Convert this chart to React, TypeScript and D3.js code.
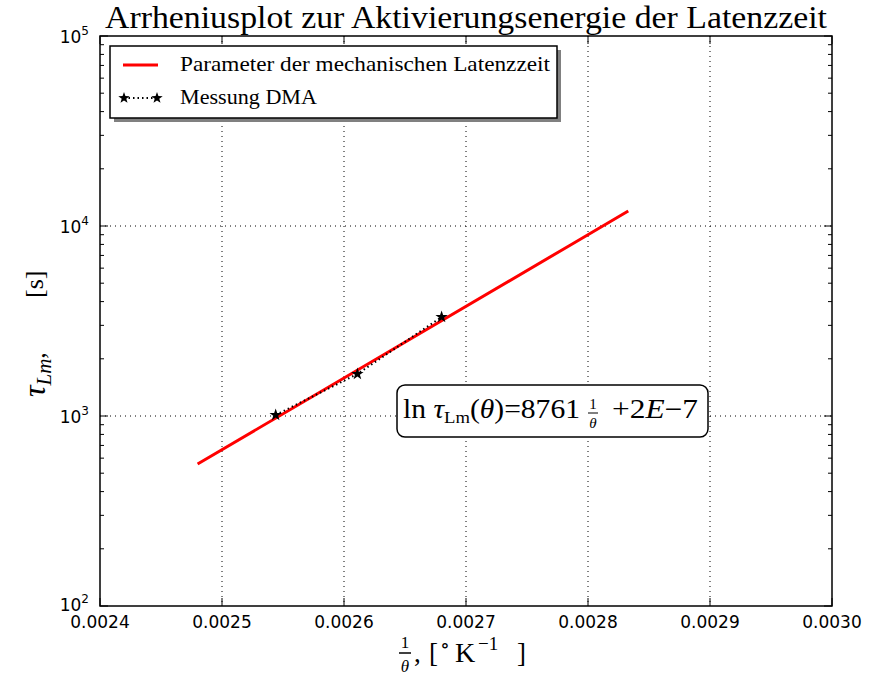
import React from "react";
import * as d3 from "d3";

const xTicks = [0.0024, 0.0025, 0.0026, 0.0027, 0.0028, 0.0029, 0.003];
const xTickLabels = ["0.0024", "0.0025", "0.0026", "0.0027", "0.0028", "0.0029", "0.0030"];
const yTicks = [100, 1000, 10000, 100000];
const yTickExp = ["2", "3", "4", "5"];

const fitX = [0.00248, 0.002785, 0.002833];
const fitY = [559, 7900, 12000];

const measX = [0.002544, 0.002611, 0.00268];
const measY = [1012, 1664, 3320];

const W = 871, H = 677;
const L = 100, R = 832, T = 36, B = 606;

function starPath(cx: number, cy: number, r: number) {
  const pts: string[] = [];
  for (let i = 0; i < 10; i++) {
    const rr = i % 2 === 0 ? r : r * 0.4;
    const a = -Math.PI / 2 + (i * Math.PI) / 5;
    pts.push(`${cx + rr * Math.cos(a)},${cy + rr * Math.sin(a)}`);
  }
  return "M" + pts.join("L") + "Z";
}

export default function App() {
  const x = d3.scaleLinear().domain([0.0024, 0.003]).range([L, R]);
  const y = d3.scaleLog().domain([100, 100000]).range([B, T]);
  const line = d3.line<[number, number]>().x((d) => x(d[0])).y((d) => y(d[1]));
  const fitData: [number, number][] = fitX.map((v, i) => [v, fitY[i]]);
  const measData: [number, number][] = measX.map((v, i) => [v, measY[i]]);

  const minor: number[] = [];
  for (let e = 2; e < 5; e++) for (let m = 2; m <= 9; m++) minor.push(m * Math.pow(10, e));

  const serif = "'Liberation Serif', 'DejaVu Serif', serif";
  const sans = "'DejaVu Sans', sans-serif";

  return (
    <svg width={W} height={H} style={{ position: "absolute", left: 0, top: 0, background: "#fff" }}>
      <rect x={0} y={0} width={W} height={H} fill="#fff" />
      {/* grid */}
      {xTicks.slice(1, -1).map((t) => (
        <line key={"gx" + t} x1={x(t)} x2={x(t)} y1={T} y2={B} stroke="#000" strokeWidth={1} strokeDasharray="1,4" />
      ))}
      {yTicks.slice(1, -1).map((t) => (
        <line key={"gy" + t} x1={L} x2={R} y1={y(t)} y2={y(t)} stroke="#000" strokeWidth={1} strokeDasharray="1,4" />
      ))}
      {/* ticks */}
      {xTicks.map((t, i) => (
        <g key={"tx" + t}>
          <line x1={x(t)} x2={x(t)} y1={B} y2={B - 8} stroke="#000" />
          <line x1={x(t)} x2={x(t)} y1={T} y2={T + 8} stroke="#000" />
          <text x={x(t)} y={B + 22} fontFamily={sans} fontSize={17} textAnchor="middle" fill="#000">{xTickLabels[i]}</text>
        </g>
      ))}
      {yTicks.map((t, i) => (
        <g key={"ty" + t}>
          <line x1={L} x2={L + 8} y1={y(t)} y2={y(t)} stroke="#000" />
          <line x1={R} x2={R - 8} y1={y(t)} y2={y(t)} stroke="#000" />
          <text x={89} y={y(t) + (i === 0 ? 5 : 7)} fontFamily={sans} fontSize={17} textAnchor="end" fill="#000">
            10<tspan dy={-8} fontSize={12}>{yTickExp[i]}</tspan>
          </text>
        </g>
      ))}
      {minor.map((t) => (
        <g key={"my" + t}>
          <line x1={L} x2={L + 4} y1={y(t)} y2={y(t)} stroke="#000" />
          <line x1={R} x2={R - 4} y1={y(t)} y2={y(t)} stroke="#000" />
        </g>
      ))}
      {/* data */}
      <path d={line(fitData) || ""} fill="none" stroke="#ff0000" strokeWidth={3} />
      <path d={line(measData) || ""} fill="none" stroke="#000" strokeWidth={2} strokeDasharray="1.5,3" />
      {measData.map((d, i) => (
        <path key={"s" + i} d={starPath(x(d[0]), y(d[1]), 6.5)} fill="#000" />
      ))}
      {/* frame */}
      <rect x={L} y={T} width={R - L} height={B - T} fill="none" stroke="#000" strokeWidth={1.5} />
      {/* title */}
      <text x={(L + R) / 2} y={28} fontFamily={serif} fontSize={31} textAnchor="middle" textLength={722} lengthAdjust="spacingAndGlyphs" fill="#000">
        Arrheniusplot zur Aktivierungsenergie der Latenzzeit
      </text>
      {/* legend */}
      <rect x={114} y={50} width={447} height={72} fill="#808080" />
      <rect x={110} y={46} width={447} height={72} fill="#fff" stroke="#000" strokeWidth={1.5} />
      <line x1={123} x2={158} y1={65} y2={65} stroke="#ff0000" strokeWidth={3} />
      <text x={180} y={71} fontFamily={serif} fontSize={21} textLength={370} lengthAdjust="spacingAndGlyphs" fill="#000">Parameter der mechanischen Latenzzeit</text>
      <line x1={124} x2={157} y1={98} y2={98} stroke="#000" strokeWidth={2} strokeDasharray="1.5,3" />
      <path d={starPath(124, 98, 6)} fill="#000" />
      <path d={starPath(157, 98, 6)} fill="#000" />
      <text x={180} y={104} fontFamily={serif} fontSize={21} textLength={137} lengthAdjust="spacingAndGlyphs" fill="#000">Messung DMA</text>
      {/* annotation */}
      <rect x={397} y={385} width={311} height={52} rx={8} fill="#fff" stroke="#000" strokeWidth={1.5} />
      <text x={403} y={418} fontFamily={serif} fontSize={27} textLength={177} lengthAdjust="spacingAndGlyphs" fill="#000">
        ln <tspan fontStyle="italic">τ</tspan><tspan fontSize={17} dy={5}>Lm</tspan><tspan dy={-5}>(</tspan><tspan fontStyle="italic">θ</tspan>)=8761
      </text>
      <text x={593} y={409} fontFamily={serif} fontSize={15} textAnchor="middle" fill="#000">1</text>
      <line x1={588} x2={598} y1={413} y2={413} stroke="#000" strokeWidth={1} />
      <text x={593} y={428} fontFamily={serif} fontSize={15} fontStyle="italic" textAnchor="middle" fill="#000">θ</text>
      <text x={612} y={418} fontFamily={serif} fontSize={27} textLength={86} lengthAdjust="spacingAndGlyphs" fill="#000">
        +2<tspan fontStyle="italic">E</tspan>−7
      </text>
      {/* x label */}
      <text x={405} y={648} fontFamily={serif} fontSize={17} textAnchor="middle" fill="#000">1</text>
      <line x1={399} x2={411} y1={653} y2={653} stroke="#000" strokeWidth={1.5} />
      <text x={405} y={672} fontFamily={serif} fontSize={17} fontStyle="italic" textAnchor="middle" fill="#000">θ</text>
      <text y={662} fontFamily={serif} fontSize={27} fill="#000">
        <tspan x={414}>,</tspan>
        <tspan x={429}>[</tspan>
        <tspan x={440} y={652} fontSize={20}>∘</tspan>
        <tspan x={455} y={662} fontSize={28}>K</tspan>
        <tspan x={478} y={650} fontSize={19}>−1</tspan>
        <tspan x={517} y={662}>]</tspan>
      </text>
      {/* y label */}
      <text transform="translate(45,397) rotate(-90)" fontFamily={serif} fontSize={30} fill="#000">
        <tspan fontStyle="italic" fontSize={32}>τ</tspan><tspan fontStyle="italic" fontSize={21} dy={6}>Lm</tspan><tspan dy={-6} fontSize={26}>,</tspan>
      </text>
      <text transform="translate(43,298) rotate(-90)" fontFamily={serif} fontSize={26} fill="#000">[s]</text>
    </svg>
  );
}
